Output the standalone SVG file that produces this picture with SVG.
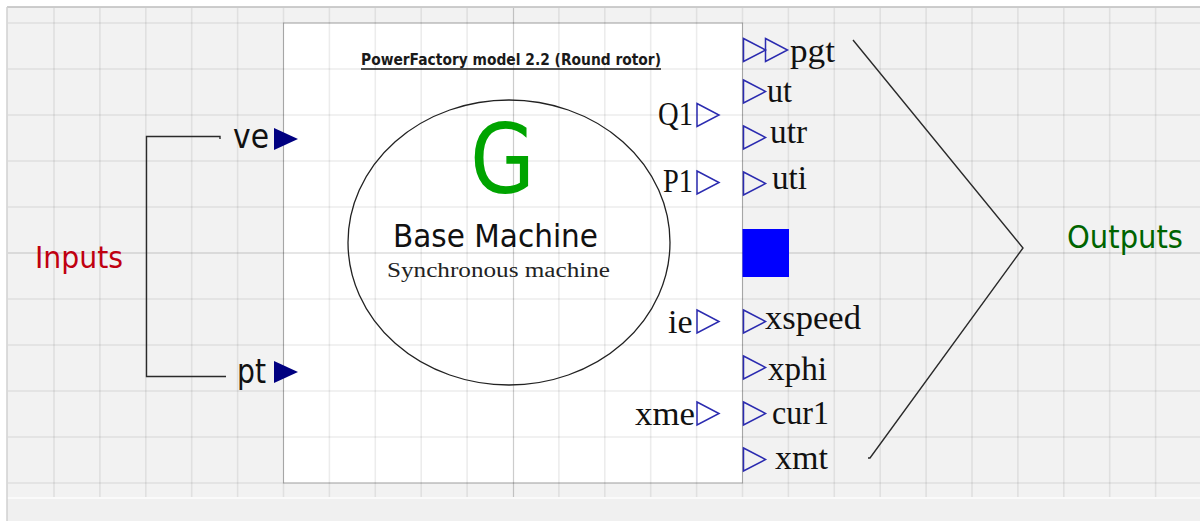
<svg xmlns="http://www.w3.org/2000/svg" width="1200" height="521" viewBox="0 0 1200 521">
  <style>
    .grid { stroke: #000; stroke-opacity: 0.075; stroke-width: 1.6; }
    .axis { stroke: #000; stroke-opacity: 0.2; stroke-width: 1.2; }
    .sans { font-family: "DejaVu Sans", "Liberation Sans", sans-serif; }
    .serif { font-family: "Liberation Serif", "Times New Roman", serif; font-size: 34px; fill: #111; }
    .port-in { fill: #000080; }
    .port-out { fill: none; stroke: #2b2bb0; stroke-width: 1.5; stroke-linejoin: miter; }
    .wire { fill: none; stroke: #2a2a2a; stroke-width: 1.4; }
  </style>
  <defs>
    <path id="tri" d="M0,-11.5 L22,0 L0,11.5 Z"/>
  </defs>

  <!-- canvas -->
  <rect x="0" y="0" width="1200" height="521" fill="#ffffff"/>
  <rect x="7" y="7" width="1193" height="490" fill="#f2f2f2"/>
  <rect x="7" y="497" width="1193" height="24" fill="#f0f0f0"/>
  <line x1="7" y1="498" x2="1200" y2="498" stroke="#fafafa" stroke-width="2"/>
  <line x1="7" y1="7" x2="1200" y2="7" stroke="#bcbcbc" stroke-width="1.5"/>
  <line x1="7" y1="7" x2="7" y2="521" stroke="#d0d0d0" stroke-width="1.5"/>

  <!-- block body -->
  <g id="block">
    <rect x="283.5" y="23" width="459" height="460" fill="#ffffff" stroke="#b4b4b4" stroke-width="1"/>
  </g>

  <!-- drawing grid -->
  <g id="grid">
    <g class="grid">
      <line x1="8" y1="23" x2="1200" y2="23"/>
      <line x1="8" y1="69" x2="1200" y2="69"/>
      <line x1="8" y1="115" x2="1200" y2="115"/>
      <line x1="8" y1="161" x2="1200" y2="161"/>
      <line x1="8" y1="207" x2="1200" y2="207"/>
      <line x1="8" y1="299" x2="1200" y2="299"/>
      <line x1="8" y1="345" x2="1200" y2="345"/>
      <line x1="8" y1="391" x2="1200" y2="391"/>
      <line x1="8" y1="437" x2="1200" y2="437"/>
      <line x1="8" y1="483" x2="1200" y2="483"/>
      <line x1="54" y1="8" x2="54" y2="497"/>
      <line x1="99.9" y1="8" x2="99.9" y2="497"/>
      <line x1="145.8" y1="8" x2="145.8" y2="497"/>
      <line x1="191.7" y1="8" x2="191.7" y2="497"/>
      <line x1="237.6" y1="8" x2="237.6" y2="497"/>
      <line x1="283.5" y1="8" x2="283.5" y2="497"/>
      <line x1="329.4" y1="8" x2="329.4" y2="497"/>
      <line x1="375.3" y1="8" x2="375.3" y2="497"/>
      <line x1="421.2" y1="8" x2="421.2" y2="497"/>
      <line x1="467.1" y1="8" x2="467.1" y2="497"/>
      <line x1="558.9" y1="8" x2="558.9" y2="497"/>
      <line x1="604.8" y1="8" x2="604.8" y2="497"/>
      <line x1="650.7" y1="8" x2="650.7" y2="497"/>
      <line x1="696.6" y1="8" x2="696.6" y2="497"/>
      <line x1="742.5" y1="8" x2="742.5" y2="497"/>
      <line x1="788.4" y1="8" x2="788.4" y2="497"/>
      <line x1="834.3" y1="8" x2="834.3" y2="497"/>
      <line x1="880.2" y1="8" x2="880.2" y2="497"/>
      <line x1="926.1" y1="8" x2="926.1" y2="497"/>
      <line x1="972" y1="8" x2="972" y2="497"/>
      <line x1="1017.9" y1="8" x2="1017.9" y2="497"/>
      <line x1="1063.8" y1="8" x2="1063.8" y2="497"/>
      <line x1="1109.7" y1="8" x2="1109.7" y2="497"/>
      <line x1="1155.6" y1="8" x2="1155.6" y2="497"/>
    </g>
    <g class="axis">
      <line x1="8" y1="253" x2="1200" y2="253"/>
      <line x1="513.5" y1="8" x2="513.5" y2="497"/>
    </g>
  </g>

  <!-- machine symbol and titles -->
  <g id="machine">
    <text class="sans" x="361" y="65" font-size="16" font-weight="bold" fill="#1a1a1a" textLength="300" lengthAdjust="spacingAndGlyphs">PowerFactory model 2.2 (Round rotor)</text>
    <line x1="361" y1="69" x2="661" y2="69" stroke="#1a1a1a" stroke-width="1.4"/>
    <ellipse cx="509" cy="242.5" rx="161" ry="142.5" fill="none" stroke="#222" stroke-width="1.3"/>
    <text class="sans" x="470" y="193" font-size="97" fill="#00a400" textLength="65" lengthAdjust="spacingAndGlyphs">G</text>
    <text class="sans" x="393" y="247" font-size="32" fill="#111" textLength="205" lengthAdjust="spacingAndGlyphs">Base Machine</text>
    <text x="387" y="277" font-family="Liberation Serif, Times New Roman, serif" font-size="20" fill="#222" textLength="223" lengthAdjust="spacingAndGlyphs">Synchronous machine</text>
  </g>

  <!-- input ports -->
  <g id="port-ve">
    <text class="sans" x="233" y="148" font-size="33" fill="#111" textLength="36" lengthAdjust="spacingAndGlyphs">ve</text>
    <polygon class="port-in" points="274,128 298,139 274,150"/>
  </g>
  <g id="port-pt">
    <text class="sans" x="237" y="383" font-size="33" fill="#111" textLength="29" lengthAdjust="spacingAndGlyphs">pt</text>
    <polygon class="port-in" points="274,361 298,372 274,383"/>
  </g>

  <!-- internal signals -->
  <g id="sig-Q1">
    <text class="serif" x="658" y="125" textLength="35" lengthAdjust="spacingAndGlyphs">Q1</text>
    <use href="#tri" class="port-out" x="697" y="115"/>
  </g>
  <g id="sig-P1">
    <text class="serif" x="663" y="192" textLength="30" lengthAdjust="spacingAndGlyphs">P1</text>
    <use href="#tri" class="port-out" x="697" y="182.5"/>
  </g>
  <g id="sig-ie">
    <text class="serif" x="668" y="333">ie</text>
    <use href="#tri" class="port-out" x="697" y="321.5"/>
  </g>
  <g id="sig-xme">
    <text class="serif" x="635" y="425" textLength="60" lengthAdjust="spacingAndGlyphs">xme</text>
    <use href="#tri" class="port-out" x="697" y="413.5"/>
  </g>

  <!-- output ports -->
  <g id="out-pgt">
    <use href="#tri" class="port-out" x="743.5" y="50"/>
    <use href="#tri" class="port-out" x="765.5" y="50"/>
    <text class="serif" x="790" y="62" textLength="45" lengthAdjust="spacingAndGlyphs">pgt</text>
  </g>
  <g id="out-ut">
    <use href="#tri" class="port-out" x="743.5" y="91.5"/>
    <text class="serif" x="767" y="102" textLength="25" lengthAdjust="spacingAndGlyphs">ut</text>
  </g>
  <g id="out-utr">
    <use href="#tri" class="port-out" x="743.5" y="137.5"/>
    <text class="serif" x="770" y="143" textLength="37" lengthAdjust="spacingAndGlyphs">utr</text>
  </g>
  <g id="out-uti">
    <use href="#tri" class="port-out" x="743.5" y="183.5"/>
    <text class="serif" x="772" y="189" textLength="35" lengthAdjust="spacingAndGlyphs">uti</text>
  </g>
  <g id="status">
    <rect x="742.5" y="229" width="46.5" height="48" fill="#0000ff"/>
  </g>
  <g id="out-xspeed">
    <use href="#tri" class="port-out" x="743.5" y="321.5"/>
    <text class="serif" x="765" y="329" textLength="96" lengthAdjust="spacingAndGlyphs">xspeed</text>
  </g>
  <g id="out-xphi">
    <use href="#tri" class="port-out" x="743.5" y="367.5"/>
    <text class="serif" x="768" y="380" textLength="59" lengthAdjust="spacingAndGlyphs">xphi</text>
  </g>
  <g id="out-cur1">
    <use href="#tri" class="port-out" x="743.5" y="413.5"/>
    <text class="serif" x="772" y="424" textLength="57" lengthAdjust="spacingAndGlyphs">cur1</text>
  </g>
  <g id="out-xmt">
    <use href="#tri" class="port-out" x="743.5" y="459.5"/>
    <text class="serif" x="775" y="469" textLength="53" lengthAdjust="spacingAndGlyphs">xmt</text>
  </g>

  <!-- group labels -->
  <g id="label-inputs">
    <text class="sans" x="35" y="268" font-size="31" fill="#c00010" textLength="88" lengthAdjust="spacingAndGlyphs">Inputs</text>
  </g>
  <g id="label-outputs">
    <text class="sans" x="1067" y="248" font-size="32" fill="#006400" textLength="116" lengthAdjust="spacingAndGlyphs">Outputs</text>
  </g>

  <!-- brackets -->
  <g id="connectors">
    <polyline class="wire" points="220,139 220,136.5 146.5,136.5 146.5,376.5 226,376.5"/>
    <polyline class="wire" points="853,40 1023,248 870,458 868,458"/>
  </g>
</svg>
